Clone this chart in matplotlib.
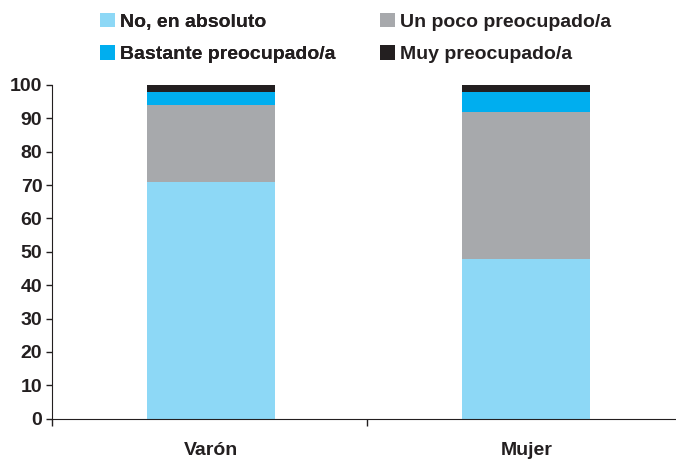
import matplotlib
matplotlib.use("Agg")
import matplotlib.pyplot as plt
from matplotlib.patches import Patch

plt.rcParams.update({"font.family": ["Liberation Sans", "DejaVu Sans"], "font.weight": "bold"})

categories = ["Varón", "Mujer"]
series_names = ["No, en absoluto", "Un poco preocupado/a", "Bastante preocupado/a", "Muy preocupado/a"]
no_absoluto = [71, 48]
un_poco = [23, 44]
bastante = [4, 6]
muy = [2, 2]
colors = ["#8DD8F6", "#A7A9AC", "#00AEEF", "#231F20"]
INK = "#231F20"
FS = 14

fig = plt.figure(figsize=(6.76, 4.61), dpi=100)
ax = fig.add_axes([52 / 676, 1 - 418.7 / 461, 1 - 52 / 676, (418.7 - 85) / 461])

xpos = [0.51, 1.52]
bottom = [0, 0]
for vals, col in zip([no_absoluto, un_poco, bastante, muy], colors):
    ax.bar(xpos, vals, width=0.41, bottom=bottom, color=col, linewidth=0, zorder=2)
    bottom = [b + v for b, v in zip(bottom, vals)]

ax.set_xlim(0, 2)
ax.set_ylim(0, 100)
ax.set_yticks(range(0, 101, 10))
ax.tick_params(axis="y", length=4, width=1, color=INK, labelsize=FS, labelcolor=INK, pad=3)
ax.set_xticks([0, 1.01])
ax.set_xticklabels([])
ax.tick_params(axis="x", length=5, width=1, color=INK)
ax.set_xticks(xpos, minor=True)
ax.set_xticklabels(categories, minor=True)
ax.tick_params(axis="x", which="minor", length=0, labelsize=FS, labelcolor=INK, pad=17)
for s in ["top", "right"]:
    ax.spines[s].set_visible(False)
ax.spines["left"].set_color(INK)
ax.spines["bottom"].set_color(INK)

handles = [Patch(facecolor=c, edgecolor="none") for c in colors]
common = dict(frameon=False, fontsize=FS, handlelength=0.75, handleheight=0.75,
              handletextpad=0.3, labelspacing=0.75, borderpad=0, borderaxespad=0,
              loc="upper left", labelcolor=INK)
leg1 = fig.legend([handles[0], handles[2]], [series_names[0], series_names[2]],
                  bbox_to_anchor=(100 / 676, 1 - 13 / 461), **common)
fig.add_artist(leg1)
fig.legend([handles[1], handles[3]], [series_names[1], series_names[3]],
           bbox_to_anchor=(380 / 676, 1 - 13 / 461), **common)

fig.savefig("out.png", dpi=100)
